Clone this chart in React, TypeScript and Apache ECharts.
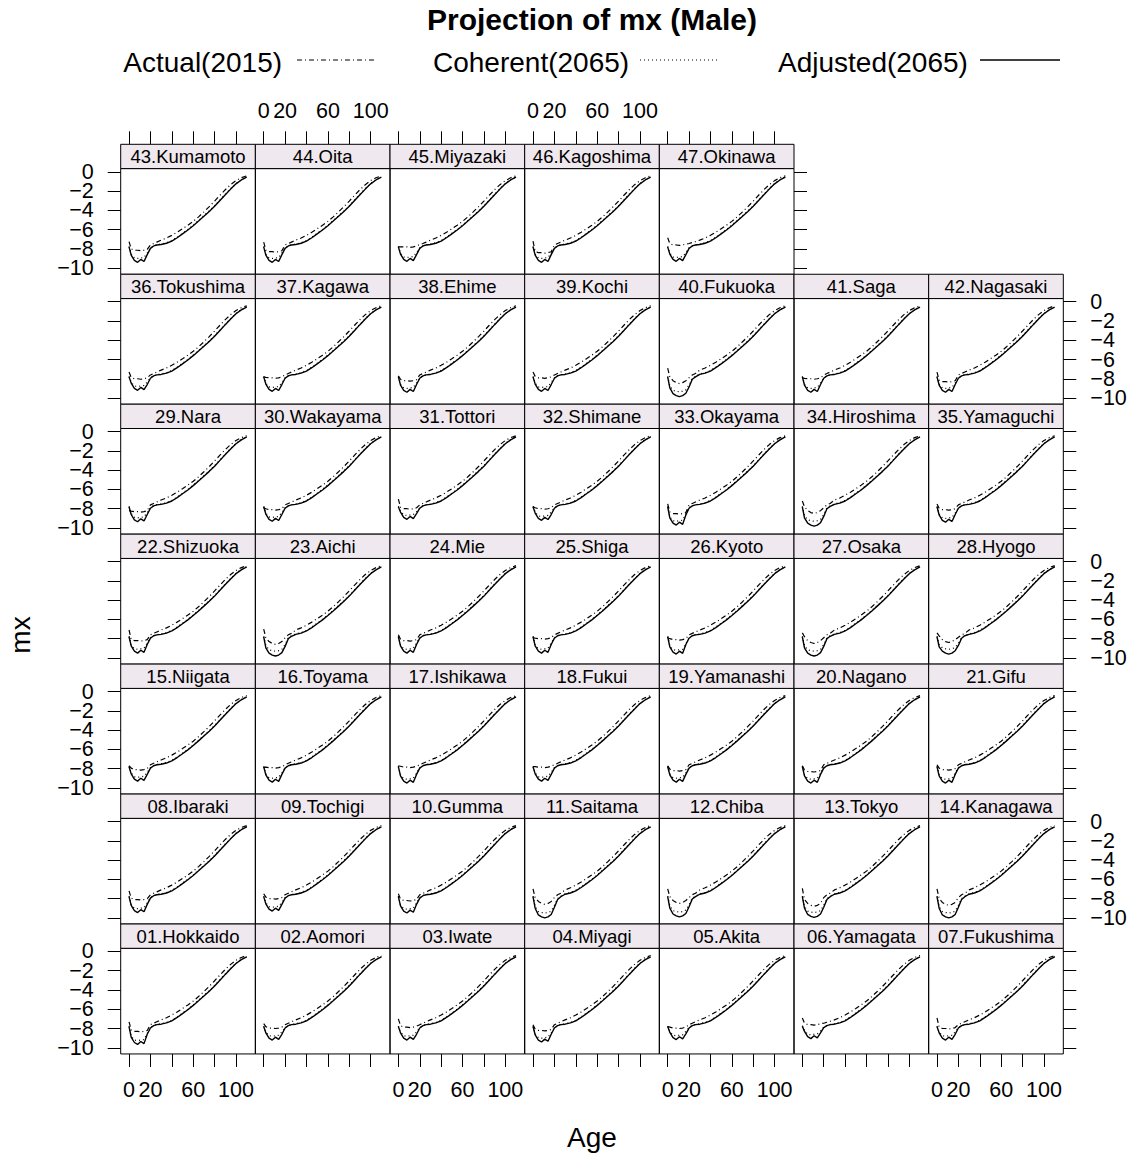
import React, { useEffect, useRef } from "react";
import * as echarts from "echarts";

const PREFECTURES = [
  "01.Hokkaido", "02.Aomori", "03.Iwate", "04.Miyagi", "05.Akita", "06.Yamagata", "07.Fukushima",
  "08.Ibaraki", "09.Tochigi", "10.Gumma", "11.Saitama", "12.Chiba", "13.Tokyo", "14.Kanagawa",
  "15.Niigata", "16.Toyama", "17.Ishikawa", "18.Fukui", "19.Yamanashi", "20.Nagano", "21.Gifu",
  "22.Shizuoka", "23.Aichi", "24.Mie", "25.Shiga", "26.Kyoto", "27.Osaka", "28.Hyogo",
  "29.Nara", "30.Wakayama", "31.Tottori", "32.Shimane", "33.Okayama", "34.Hiroshima", "35.Yamaguchi",
  "36.Tokushima", "37.Kagawa", "38.Ehime", "39.Kochi", "40.Fukuoka", "41.Saga", "42.Nagasaki",
  "43.Kumamoto", "44.Oita", "45.Miyazaki", "46.Kagoshima", "47.Okinawa",
];

const AGES_YOUNG = [0, 2, 5, 8, 11, 14, 17, 20, 23, 26];
const AGES_OLD = [30, 35, 40, 45, 50, 55, 60, 65, 70, 75, 80, 85, 90, 95, 100, 105, 110];

const ACTUAL_OLD = [-7.1, -6.88, -6.6, -6.28, -5.92, -5.55, -5.15, -4.68, -4.16, -3.62, -3.04, -2.44, -1.86, -1.34, -0.92, -0.62, -0.42];
const COHERENT_OLD = [-7.5, -7.37, -7.14, -6.79, -6.39, -5.99, -5.54, -5.06, -4.56, -4.06, -3.52, -2.93, -2.33, -1.75, -1.21, -0.82, -0.52];
const ADJUSTED_OLD = [-7.55, -7.42, -7.2, -6.85, -6.45, -6.05, -5.6, -5.12, -4.62, -4.12, -3.58, -2.98, -2.38, -1.8, -1.25, -0.85, -0.55];

const ACTUAL_YOUNG = [
  [-7.3, -8.15, -8.3, -8.3, -8.35, -8.3, -8.2, -7.6, -7.45, -7.3],
  [-7.5, -7.8, -7.95, -7.95, -8.0, -7.95, -7.85, -7.6, -7.45, -7.3],
  [-7.0, -7.7, -7.85, -7.85, -7.9, -7.85, -7.75, -7.6, -7.45, -7.3],
  [-7.6, -8.05, -8.2, -8.2, -8.25, -8.2, -8.1, -7.6, -7.45, -7.3],
  [-7.8, -7.85, -7.95, -7.95, -8.0, -7.95, -7.85, -7.6, -7.45, -7.3],
  [-6.9, -7.45, -7.6, -7.6, -7.65, -7.6, -7.5, -7.45, -7.35, -7.25],
  [-6.9, -7.85, -8.0, -8.0, -8.05, -8.0, -7.9, -7.6, -7.45, -7.3],
  [-7.2, -7.95, -8.1, -8.1, -8.15, -8.1, -8.0, -7.6, -7.45, -7.3],
  [-7.5, -7.85, -8.0, -8.0, -8.05, -8.0, -7.9, -7.6, -7.45, -7.3],
  [-7.5, -8.05, -8.2, -8.2, -8.25, -8.2, -8.1, -7.6, -7.45, -7.3],
  [-7.0, -7.9, -8.3, -8.5, -8.6, -8.5, -8.3, -7.9, -7.6, -7.45],
  [-7.0, -7.8, -8.2, -8.4, -8.5, -8.4, -8.2, -7.9, -7.6, -7.45],
  [-6.95, -8.1, -8.5, -8.7, -8.8, -8.7, -8.5, -7.9, -7.6, -7.45],
  [-7.0, -8.0, -8.4, -8.6, -8.7, -8.6, -8.4, -7.9, -7.6, -7.45],
  [-7.7, -7.95, -8.1, -8.1, -8.15, -8.1, -8.0, -7.6, -7.45, -7.3],
  [-7.9, -7.85, -7.9, -7.9, -7.95, -7.9, -7.8, -7.6, -7.45, -7.3],
  [-7.7, -7.75, -7.85, -7.85, -7.9, -7.85, -7.75, -7.6, -7.45, -7.3],
  [-7.8, -7.8, -7.85, -7.85, -7.9, -7.85, -7.75, -7.6, -7.45, -7.3],
  [-7.7, -8.05, -8.2, -8.2, -8.25, -8.2, -8.1, -7.6, -7.45, -7.3],
  [-7.7, -8.15, -8.3, -8.3, -8.35, -8.3, -8.2, -7.6, -7.45, -7.3],
  [-7.6, -7.95, -8.1, -8.1, -8.15, -8.1, -8.0, -7.6, -7.45, -7.3],
  [-7.1, -8.05, -8.2, -8.2, -8.25, -8.2, -8.1, -7.6, -7.45, -7.3],
  [-7.0, -7.9, -8.3, -8.5, -8.6, -8.5, -8.3, -7.9, -7.6, -7.45],
  [-7.6, -8.05, -8.2, -8.2, -8.25, -8.2, -8.1, -7.6, -7.45, -7.3],
  [-7.9, -7.95, -8.0, -8.0, -8.05, -8.0, -7.9, -7.6, -7.45, -7.3],
  [-7.9, -8.0, -8.1, -8.1, -8.15, -8.1, -8.0, -7.6, -7.45, -7.3],
  [-7.4, -7.8, -8.2, -8.4, -8.5, -8.4, -8.2, -7.9, -7.6, -7.45],
  [-7.4, -7.7, -8.1, -8.3, -8.4, -8.3, -8.1, -7.85, -7.6, -7.45],
  [-8.2, -8.25, -8.3, -8.3, -8.35, -8.3, -8.2, -7.6, -7.45, -7.3],
  [-7.9, -8.0, -8.1, -8.1, -8.15, -8.1, -8.0, -7.6, -7.45, -7.3],
  [-7.0, -7.85, -8.0, -8.0, -8.05, -8.0, -7.9, -7.6, -7.45, -7.3],
  [-7.8, -7.9, -8.0, -8.0, -8.05, -8.0, -7.9, -7.6, -7.45, -7.3],
  [-7.5, -8.35, -8.5, -8.5, -8.55, -8.5, -8.4, -7.6, -7.45, -7.3],
  [-7.2, -7.8, -8.2, -8.4, -8.5, -8.4, -8.2, -7.9, -7.6, -7.45],
  [-7.5, -7.95, -8.1, -8.1, -8.15, -8.1, -8.0, -7.6, -7.45, -7.3],
  [-7.3, -7.85, -8.0, -8.0, -8.05, -8.0, -7.9, -7.6, -7.45, -7.3],
  [-7.8, -7.85, -7.9, -7.9, -7.95, -7.9, -7.8, -7.6, -7.45, -7.3],
  [-7.7, -8.05, -8.2, -8.2, -8.25, -8.2, -8.1, -7.6, -7.45, -7.3],
  [-7.3, -7.75, -7.9, -7.9, -7.95, -7.9, -7.8, -7.6, -7.45, -7.3],
  [-6.9, -7.8, -8.2, -8.4, -8.5, -8.4, -8.2, -7.9, -7.6, -7.45],
  [-7.9, -7.95, -8.0, -8.0, -8.05, -8.0, -7.9, -7.6, -7.45, -7.3],
  [-7.3, -8.15, -8.3, -8.3, -8.35, -8.3, -8.2, -7.6, -7.45, -7.3],
  [-7.25, -8.0, -8.15, -8.15, -8.2, -8.15, -8.05, -7.6, -7.45, -7.3],
  [-7.3, -8.15, -8.3, -8.3, -8.35, -8.3, -8.2, -7.6, -7.45, -7.3],
  [-7.8, -7.8, -7.8, -7.8, -7.85, -7.8, -7.7, -7.55, -7.45, -7.3],
  [-7.2, -8.25, -8.4, -8.4, -8.45, -8.4, -8.3, -7.6, -7.45, -7.3],
  [-6.85, -7.45, -7.6, -7.6, -7.65, -7.6, -7.5, -7.45, -7.35, -7.25],
];

const COHERENT_YOUNG = [
  [-7.75, -8.8, -9.2, -9.25, -9.2, -9.15, -8.5, -7.9, -7.68, -7.58],
  [-7.75, -8.35, -8.75, -8.8, -8.75, -8.7, -8.35, -7.9, -7.68, -7.58],
  [-7.75, -8.35, -8.75, -8.8, -8.75, -8.7, -8.35, -7.9, -7.68, -7.58],
  [-7.75, -8.55, -8.95, -9.0, -8.95, -8.9, -8.45, -7.9, -7.68, -7.58],
  [-7.75, -8.3, -8.7, -8.75, -8.7, -8.65, -8.3, -7.9, -7.68, -7.58],
  [-7.7, -8.2, -8.6, -8.65, -8.6, -8.55, -8.25, -7.85, -7.68, -7.58],
  [-7.75, -8.35, -8.75, -8.8, -8.75, -8.7, -8.35, -7.9, -7.68, -7.58],
  [-7.75, -8.6, -9.0, -9.05, -9.0, -8.95, -8.45, -7.9, -7.68, -7.58],
  [-7.75, -8.45, -8.85, -8.9, -8.85, -8.8, -8.4, -7.9, -7.68, -7.58],
  [-7.75, -8.65, -9.05, -9.1, -9.05, -9.0, -8.45, -7.9, -7.68, -7.58],
  [-7.75, -8.8, -9.35, -9.45, -9.5, -9.45, -9.3, -8.7, -8.0, -7.75],
  [-7.75, -8.75, -9.25, -9.35, -9.4, -9.35, -9.2, -8.65, -7.95, -7.75],
  [-7.75, -8.8, -9.3, -9.4, -9.45, -9.4, -9.25, -8.7, -8.0, -7.75],
  [-7.75, -8.8, -9.35, -9.45, -9.5, -9.45, -9.3, -8.7, -8.0, -7.75],
  [-7.75, -8.45, -8.85, -8.9, -8.85, -8.8, -8.4, -7.9, -7.68, -7.58],
  [-7.75, -8.55, -8.95, -9.0, -8.95, -8.9, -8.45, -7.9, -7.68, -7.58],
  [-7.75, -8.65, -9.05, -9.1, -9.05, -9.0, -8.45, -7.9, -7.68, -7.58],
  [-7.75, -8.45, -8.85, -8.9, -8.85, -8.8, -8.4, -7.9, -7.68, -7.58],
  [-7.75, -8.55, -8.95, -9.0, -8.95, -8.9, -8.45, -7.9, -7.68, -7.58],
  [-7.75, -8.65, -9.05, -9.1, -9.05, -9.0, -8.45, -7.9, -7.68, -7.58],
  [-7.75, -8.65, -9.05, -9.1, -9.05, -9.0, -8.45, -7.9, -7.68, -7.58],
  [-7.75, -8.65, -9.05, -9.1, -9.05, -9.0, -8.45, -7.9, -7.68, -7.58],
  [-7.75, -8.7, -9.15, -9.25, -9.3, -9.25, -9.1, -8.6, -7.9, -7.7],
  [-7.75, -8.65, -9.05, -9.1, -9.05, -9.0, -8.45, -7.9, -7.68, -7.58],
  [-7.75, -8.65, -9.05, -9.1, -9.05, -9.0, -8.45, -7.9, -7.68, -7.58],
  [-7.75, -8.75, -9.15, -9.2, -9.15, -9.1, -8.5, -7.9, -7.68, -7.58],
  [-7.75, -8.7, -9.15, -9.25, -9.3, -9.25, -9.1, -8.6, -7.9, -7.7],
  [-7.75, -8.6, -8.95, -9.05, -9.1, -9.05, -8.9, -8.5, -7.85, -7.68],
  [-7.75, -8.5, -8.9, -8.95, -8.9, -8.85, -8.4, -7.9, -7.68, -7.58],
  [-7.75, -8.45, -8.85, -8.9, -8.85, -8.8, -8.4, -7.9, -7.68, -7.58],
  [-7.75, -8.25, -8.65, -8.7, -8.65, -8.6, -8.3, -7.9, -7.68, -7.58],
  [-7.75, -8.35, -8.75, -8.8, -8.75, -8.7, -8.35, -7.9, -7.68, -7.58],
  [-7.75, -8.85, -9.25, -9.3, -9.25, -9.2, -8.5, -7.9, -7.68, -7.58],
  [-7.75, -8.7, -9.15, -9.25, -9.3, -9.25, -9.1, -8.6, -7.9, -7.7],
  [-7.75, -8.55, -8.95, -9.0, -8.95, -8.9, -8.45, -7.9, -7.68, -7.58],
  [-7.75, -8.35, -8.75, -8.8, -8.75, -8.7, -8.35, -7.9, -7.68, -7.58],
  [-7.75, -8.45, -8.85, -8.9, -8.85, -8.8, -8.4, -7.9, -7.68, -7.58],
  [-7.75, -8.55, -8.95, -9.0, -8.95, -8.9, -8.45, -7.9, -7.68, -7.58],
  [-7.75, -8.45, -8.85, -8.9, -8.85, -8.8, -8.4, -7.9, -7.68, -7.58],
  [-7.75, -8.75, -9.2, -9.3, -9.35, -9.3, -9.15, -8.65, -7.95, -7.75],
  [-7.75, -8.55, -8.95, -9.0, -8.95, -8.9, -8.45, -7.9, -7.68, -7.58],
  [-7.75, -8.55, -8.95, -9.0, -8.95, -8.9, -8.45, -7.9, -7.68, -7.58],
  [-7.75, -8.55, -8.95, -9.0, -8.95, -8.9, -8.45, -7.9, -7.68, -7.58],
  [-7.75, -8.55, -8.95, -9.0, -8.95, -8.9, -8.45, -7.9, -7.68, -7.58],
  [-7.75, -8.45, -8.85, -8.9, -8.85, -8.8, -8.4, -7.9, -7.68, -7.58],
  [-7.75, -8.55, -8.95, -9.0, -8.95, -8.9, -8.45, -7.9, -7.68, -7.58],
  [-7.75, -8.45, -8.85, -8.9, -8.85, -8.8, -8.4, -7.9, -7.68, -7.58],
];

const ADJUSTED_YOUNG = [
  [-7.8, -8.9, -9.45, -9.65, -9.35, -9.57, -8.6, -7.95, -7.7, -7.6],
  [-7.8, -8.45, -9.0, -9.2, -8.9, -9.12, -8.6, -7.95, -7.7, -7.6],
  [-7.8, -8.45, -9.0, -9.2, -8.9, -9.12, -8.6, -7.95, -7.7, -7.6],
  [-7.8, -8.65, -9.2, -9.4, -9.1, -9.32, -8.6, -7.95, -7.7, -7.6],
  [-7.8, -8.4, -8.95, -9.15, -8.85, -9.07, -8.55, -7.95, -7.7, -7.6],
  [-7.75, -8.3, -8.85, -9.05, -8.75, -8.97, -8.45, -7.9, -7.7, -7.6],
  [-7.8, -8.45, -9.0, -9.2, -8.9, -9.12, -8.6, -7.95, -7.7, -7.6],
  [-7.8, -8.7, -9.25, -9.45, -9.15, -9.37, -8.6, -7.95, -7.7, -7.6],
  [-7.8, -8.55, -9.1, -9.3, -9.0, -9.22, -8.6, -7.95, -7.7, -7.6],
  [-7.8, -8.75, -9.3, -9.5, -9.2, -9.42, -8.6, -7.95, -7.7, -7.6],
  [-7.8, -9.0, -9.7, -9.9, -10.0, -9.9, -9.65, -8.9, -8.1, -7.8],
  [-7.8, -9.0, -9.6, -9.8, -9.9, -9.8, -9.55, -8.85, -8.05, -7.8],
  [-7.8, -9.0, -9.65, -9.85, -9.95, -9.85, -9.6, -8.9, -8.1, -7.8],
  [-7.8, -9.0, -9.7, -9.9, -10.0, -9.9, -9.65, -8.9, -8.1, -7.8],
  [-7.8, -8.55, -9.1, -9.3, -9.0, -9.22, -8.6, -7.95, -7.7, -7.6],
  [-7.8, -8.65, -9.2, -9.4, -9.1, -9.32, -8.6, -7.95, -7.7, -7.6],
  [-7.8, -8.75, -9.3, -9.5, -9.2, -9.42, -8.6, -7.95, -7.7, -7.6],
  [-7.8, -8.55, -9.1, -9.3, -9.0, -9.22, -8.6, -7.95, -7.7, -7.6],
  [-7.8, -8.65, -9.2, -9.4, -9.1, -9.32, -8.6, -7.95, -7.7, -7.6],
  [-7.8, -8.75, -9.3, -9.5, -9.2, -9.42, -8.6, -7.95, -7.7, -7.6],
  [-7.8, -8.75, -9.3, -9.5, -9.2, -9.42, -8.6, -7.95, -7.7, -7.6],
  [-7.8, -8.75, -9.3, -9.5, -9.2, -9.42, -8.6, -7.95, -7.7, -7.6],
  [-7.8, -8.95, -9.5, -9.7, -9.8, -9.7, -9.45, -8.8, -8.0, -7.75],
  [-7.8, -8.75, -9.3, -9.5, -9.2, -9.42, -8.6, -7.95, -7.7, -7.6],
  [-7.8, -8.75, -9.3, -9.5, -9.2, -9.42, -8.6, -7.95, -7.7, -7.6],
  [-7.8, -8.85, -9.4, -9.6, -9.3, -9.52, -8.6, -7.95, -7.7, -7.6],
  [-7.8, -8.95, -9.5, -9.7, -9.8, -9.7, -9.45, -8.8, -8.0, -7.75],
  [-7.8, -8.85, -9.3, -9.5, -9.6, -9.5, -9.25, -8.7, -7.95, -7.7],
  [-7.8, -8.6, -9.15, -9.35, -9.05, -9.27, -8.6, -7.95, -7.7, -7.6],
  [-7.8, -8.55, -9.1, -9.3, -9.0, -9.22, -8.6, -7.95, -7.7, -7.6],
  [-7.8, -8.35, -8.9, -9.1, -8.8, -9.02, -8.5, -7.95, -7.7, -7.6],
  [-7.8, -8.45, -9.0, -9.2, -8.9, -9.12, -8.6, -7.95, -7.7, -7.6],
  [-7.8, -8.95, -9.5, -9.7, -9.4, -9.62, -8.65, -7.95, -7.7, -7.6],
  [-7.8, -8.95, -9.5, -9.7, -9.8, -9.7, -9.45, -8.8, -8.0, -7.75],
  [-7.8, -8.65, -9.2, -9.4, -9.1, -9.32, -8.6, -7.95, -7.7, -7.6],
  [-7.8, -8.45, -9.0, -9.2, -8.9, -9.12, -8.6, -7.95, -7.7, -7.6],
  [-7.8, -8.55, -9.1, -9.3, -9.0, -9.22, -8.6, -7.95, -7.7, -7.6],
  [-7.8, -8.65, -9.2, -9.4, -9.1, -9.32, -8.6, -7.95, -7.7, -7.6],
  [-7.8, -8.55, -9.1, -9.3, -9.0, -9.22, -8.6, -7.95, -7.7, -7.6],
  [-7.8, -8.95, -9.55, -9.75, -9.85, -9.75, -9.5, -8.85, -8.05, -7.8],
  [-7.8, -8.65, -9.2, -9.4, -9.1, -9.32, -8.6, -7.95, -7.7, -7.6],
  [-7.8, -8.65, -9.2, -9.4, -9.1, -9.32, -8.6, -7.95, -7.7, -7.6],
  [-7.8, -8.65, -9.2, -9.4, -9.1, -9.32, -8.6, -7.95, -7.7, -7.6],
  [-7.8, -8.65, -9.2, -9.4, -9.1, -9.32, -8.6, -7.95, -7.7, -7.6],
  [-7.8, -8.55, -9.1, -9.3, -9.0, -9.22, -8.6, -7.95, -7.7, -7.6],
  [-7.8, -8.65, -9.2, -9.4, -9.1, -9.32, -8.6, -7.95, -7.7, -7.6],
  [-7.8, -8.55, -9.1, -9.3, -9.0, -9.22, -8.6, -7.95, -7.7, -7.6],
];

const X_TICKS = [0, 20, 40, 60, 80, 100];
const X_LABELS = [0, 20, 60, 100];
const Y_TICKS = [0, -2, -4, -6, -8, -10];
const Y_LABELS_A = [0, -4, -8];
const Y_LABELS_B = [-2, -6, -10];
const SERIES_NAMES = ["Actual(2015)", "Coherent(2065)", "Adjusted(2065)"];
const TITLE = "Projection of mx (Male)";

const FONT = '"Liberation Sans", Arial, Helvetica, sans-serif';
const X_MIN = -7.8;
const X_MAX = 118.1;
const Y_MIN = -10.64;
const Y_MAX = 0.33;
const L0 = 120.7;
const COLW = 134.66;
const T0 = 144.3;
const ROWH = 129.95;
const STRIP = 24.3;
const PANELH = ROWH - STRIP;
const STRIP_BG = "#EFE8EE";
const DASHDOT = [5, 3, 1, 3];
const DOTTED = [1, 3];

function fmtY(v: number) {
  return v < 0 ? "\u2212" + Math.abs(v) : String(v);
}

function buildOption() {
  const grids: any[] = [];
  const xAxes: any[] = [];
  const yAxes: any[] = [];
  const extraY: any[] = [];
  const series: any[] = [];
  const graphics: any[] = [];
  const ages = [...AGES_YOUNG, ...AGES_OLD];

  const yLabelStyle = {
    margin: 27, showMinLabel: true, showMaxLabel: true, hideOverlap: false,
    fontSize: 21.5, color: "#000", fontFamily: FONT, formatter: fmtY,
  };

  PREFECTURES.forEach((name, i) => {
    const r = 6 - Math.floor(i / 7);
    const c = i % 7;
    const left = L0 + c * COLW;
    const stripTop = T0 + r * ROWH;
    const top = stripTop + STRIP;
    const isBottom = r === 6;
    const isTop = r === 0;
    const lastInRow = r === 0 ? c === 4 : c === 6;
    const xLabel = (isBottom && c % 2 === 0) || (isTop && c % 2 === 1);
    const yLabel = (c === 0 && r % 2 === 0) || (lastInRow && r % 2 === 1);
    const yPos = c === 0 ? "left" : "right";

    grids.push({
      left, top, width: COLW, height: PANELH,
      show: true, borderColor: "#000", borderWidth: 1, backgroundColor: "transparent",
    });
    xAxes.push({
      gridIndex: i, type: "value", min: X_MIN, max: X_MAX,
      position: isTop ? "top" : "bottom", offset: isTop ? STRIP : 0,
      axisLine: { show: false, onZero: false },
      splitLine: { show: false },
      axisTick: { show: isTop || isBottom, customValues: X_TICKS, length: 13, lineStyle: { color: "#000", width: 1 } },
      axisLabel: {
        show: xLabel, customValues: X_LABELS, margin: isTop ? 22 : 25,
        showMinLabel: true, showMaxLabel: true, hideOverlap: false,
        fontSize: 21.5, color: "#000", fontFamily: FONT,
      },
    });
    yAxes.push({
      gridIndex: i, type: "value", min: Y_MIN, max: Y_MAX,
      position: yPos,
      axisLine: { show: false, onZero: false },
      splitLine: { show: false },
      axisTick: { show: c === 0 || lastInRow, customValues: Y_TICKS, length: 13, lineStyle: { color: "#000", width: 1 } },
      axisLabel: { show: yLabel, customValues: Y_LABELS_A, ...yLabelStyle },
    });
    if (yLabel) {
      extraY.push({
        gridIndex: i, type: "value", min: Y_MIN, max: Y_MAX,
        position: yPos,
        axisLine: { show: false, onZero: false },
        splitLine: { show: false },
        axisTick: { show: false },
        axisLabel: { show: true, customValues: Y_LABELS_B, ...yLabelStyle },
      });
    }
    const sets = [
      { vals: [...ACTUAL_YOUNG[i], ...ACTUAL_OLD], type: DASHDOT, width: 1.2, name: SERIES_NAMES[0] },
      { vals: [...COHERENT_YOUNG[i], ...COHERENT_OLD], type: DOTTED, width: 1.2, name: SERIES_NAMES[1] },
      { vals: [...ADJUSTED_YOUNG[i], ...ADJUSTED_OLD], type: "solid", width: 1.4, name: SERIES_NAMES[2] },
    ];
    sets.forEach((s) => {
      series.push({
        type: "line", name: s.name, xAxisIndex: i, yAxisIndex: i,
        data: ages.map((a, k) => [a, s.vals[k]]),
        showSymbol: false, symbol: "none", silent: true,
        lineStyle: { color: "#000", width: s.width, type: s.type },
      });
    });
    graphics.push({
      type: "rect", z: 10,
      shape: { x: left, y: stripTop, width: COLW, height: STRIP },
      style: { fill: STRIP_BG, stroke: "#000", lineWidth: 1 },
    });
    graphics.push({
      type: "text", z: 11, x: left + COLW / 2, y: stripTop + STRIP / 2 + 0.5,
      style: { text: name, fontSize: 18.5, fontFamily: FONT, fill: "#000", align: "center", verticalAlign: "middle" },
    });
  });

  graphics.push({
    type: "text", x: 592, y: 19,
    style: { text: TITLE, fontSize: 30, fontWeight: "bold", fontFamily: FONT, fill: "#000", align: "center", verticalAlign: "middle" },
  });
  const legendItems = [
    { textX: 123.3, x1: 297, x2: 377, dash: DASHDOT },
    { textX: 433, x1: 640, x2: 720, dash: DOTTED },
    { textX: 778, x1: 980, x2: 1060, dash: null },
  ];
  legendItems.forEach((it, k) => {
    graphics.push({
      type: "text", x: it.textX, y: 62,
      style: { text: SERIES_NAMES[k], fontSize: 28, fontFamily: FONT, fill: "#000", align: "left", verticalAlign: "middle" },
    });
    graphics.push({
      type: "line",
      shape: { x1: it.x1, y1: 60, x2: it.x2, y2: 60 },
      style: { stroke: "#000", lineWidth: k === 2 ? 1.4 : 1.2, lineDash: it.dash || undefined },
    });
  });
  graphics.push({
    type: "text", x: 592, y: 1137,
    style: { text: "Age", fontSize: 28, fontFamily: FONT, fill: "#000", align: "center", verticalAlign: "middle" },
  });
  graphics.push({
    type: "text", x: 20, y: 635, rotation: Math.PI / 2,
    style: { text: "mx", fontSize: 28, fontFamily: FONT, fill: "#000", align: "center", verticalAlign: "middle" },
  });

  return {
    animation: false,
    backgroundColor: "#fff",
    grid: grids,
    xAxis: xAxes,
    yAxis: [...yAxes, ...extraY],
    series,
    graphic: { elements: graphics },
  };
}

export default function App() {
  const ref = useRef<HTMLDivElement>(null);
  useEffect(() => {
    document.body.style.margin = "0";
    const chart = echarts.init(ref.current as HTMLDivElement, null, { renderer: "svg" });
    chart.setOption(buildOption() as any);
    return () => chart.dispose();
  }, []);
  return <div ref={ref} style={{ width: 1139, height: 1155 }} />;
}
